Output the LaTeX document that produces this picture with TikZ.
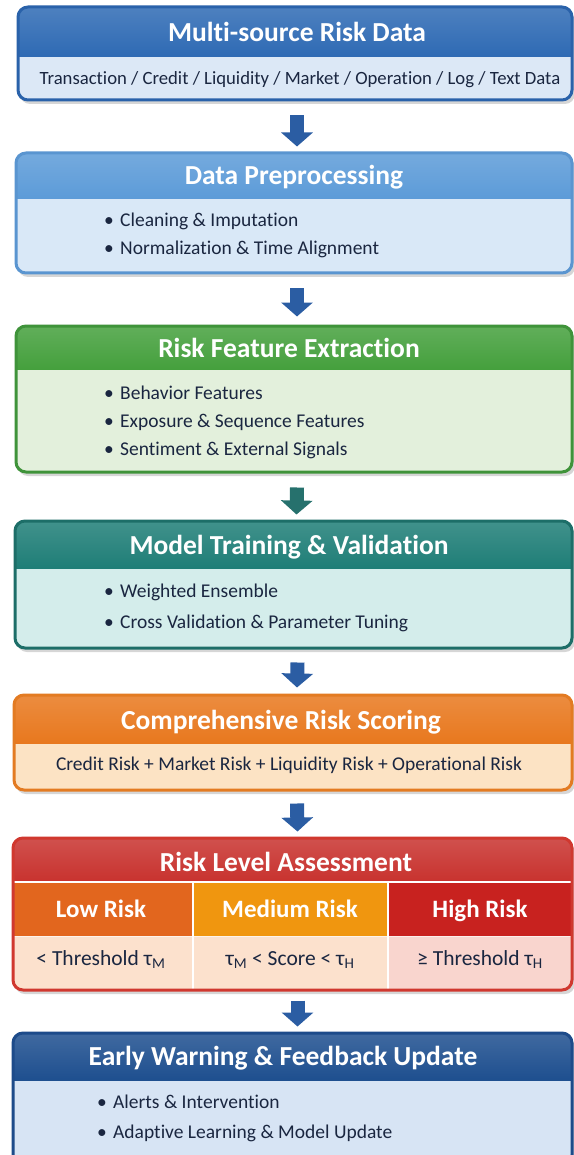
\documentclass[tikz,border=0pt]{standalone}
\usepackage{fontspec}
\setmainfont{Carlito}[Ligatures=NoCommon]
\usetikzlibrary{fit,arrows.meta,calc}

% stage colours: header / body / border
\definecolor{hdA}{HTML}{2E6AB4}\definecolor{bgA}{HTML}{DCE8F6}\definecolor{bdA}{HTML}{2A62AA}
\definecolor{hdB}{HTML}{5C9BD8}\definecolor{bgB}{HTML}{D9E8F7}\definecolor{bdB}{HTML}{5A95D0}
\definecolor{hdC}{HTML}{45A03D}\definecolor{bgC}{HTML}{E3F0DC}\definecolor{bdC}{HTML}{3F933A}
\definecolor{hdD}{HTML}{1F7E77}\definecolor{bgD}{HTML}{D4EDEB}\definecolor{bdD}{HTML}{1D6E68}
\definecolor{hdE}{HTML}{E8781E}\definecolor{bgE}{HTML}{FCE3C4}\definecolor{bdE}{HTML}{E37B22}
\definecolor{hdF}{HTML}{C8322E}\definecolor{bdF}{HTML}{D0382F}
\definecolor{hdG}{HTML}{1E4F8F}\definecolor{bgG}{HTML}{D7E4F4}\definecolor{bdG}{HTML}{1D4B8A}
% risk level cells
\definecolor{lowC}{HTML}{E2661E}\definecolor{midC}{HTML}{F0960F}\definecolor{highC}{HTML}{C8221F}
\definecolor{peach}{HTML}{FCE1CD}\definecolor{pink}{HTML}{F9D5CE}
% text and arrows
\definecolor{ink}{HTML}{1A2640}
\definecolor{arrowBlue}{HTML}{2B5DA3}\definecolor{arrowTeal}{HTML}{26716D}

\tikzset{
  frame/.style={draw, line width=3pt, rounded corners=10pt, inner sep=0pt},
  title/.style={text=white, font=\bfseries\fontsize{27.5}{32}\selectfont, inner sep=0pt},
  bodytext/.style={text=ink, font=\fontsize{19.5}{23}\selectfont, inner sep=0pt},
  item/.style={bodytext, anchor=west},
  level/.style={text=white, font=\bfseries\fontsize{25}{29}\selectfont, inner sep=0pt,
    text height=17pt, text depth=5pt},
  bound/.style={bodytext, font=\fontsize{21.5}{25}\selectfont, text height=15pt, text depth=5pt},
  flow/.style={line width=14pt, -{Triangle[width=31pt,length=14pt]}},
}

% #1 name, #2 left, #3 top, #4 bottom, #5 header bottom,
% #6 header colour, #7 body colour, #8 border colour
\newcommand\stagebox[8]{%
  \fill[black, opacity=.16, rounded corners=10pt] (#2+2,#3+4) rectangle (575,#4+4);
  \begin{scope}
    \clip[rounded corners=10pt] (#2,#3) rectangle (572,#4);
    \fill[#7] (#2,#3) rectangle (572,#4);
    \shade[top color=#6!85!white, bottom color=#6] (#2,#3) rectangle (572,#5);
  \end{scope}
  \node[frame, draw=#8, fit={(#2,#3) (572,#4)}] (#1) {};
}
\newcommand\bul{\makebox[16pt][l]{•}}

\begin{document}
\begin{tikzpicture}[x=1pt, y=-1pt]
\useasboundingbox (0,0) rectangle (573,1155);
\fill[white] (0,0) rectangle (573,1155);

% 1 data sources
\stagebox{src}{18}{7}{100}{57}{hdA}{bgA}{bdA}
\node[title] (srcT) at (297,32) {Multi-source Risk Data};
\node[bodytext, font=\fontsize{18.7}{22}\selectfont] (srcB) at (300,80) {Transaction / Credit / Liquidity / Market / Operation / Log / Text Data};

% 2 preprocessing
\stagebox{pre}{16}{153}{273}{199}{hdB}{bgB}{bdB}
\node[title] (preT) at (294,177) {Data Preprocessing};
\node[item] (pre1) at (104,221) {\bul Cleaning \& Imputation};
\node[item] (pre2) at (104,249) {\bul Normalization \& Time Alignment};

% 3 features
\stagebox{fea}{16}{326}{472}{369}{hdC}{bgC}{bdC}
\node[title] (feaT) at (289,348) {Risk Feature Extraction};
\node[item] (fea1) at (104,393) {\bul Behavior Features};
\node[item] (fea2) at (104,422) {\bul Exposure \& Sequence Features};
\node[item] (fea3) at (104,450) {\bul Sentiment \& External Signals};

% 4 model
\stagebox{mod}{15}{521}{648}{568}{hdD}{bgD}{bdD}
\node[title] (modT) at (289,547) {Model Training \& Validation};
\node[item] (mod1) at (104,592) {\bul Weighted Ensemble};
\node[item] (mod2) at (104,623) {\bul Cross Validation \& Parameter Tuning};

% 5 scoring
\stagebox{sco}{14}{695}{790}{743}{hdE}{bgE}{bdE}
\node[title] (scoT) at (281,722) {Comprehensive Risk Scoring};
\node[bodytext] (scoB) at (289,765) {Credit Risk + Market Risk + Liquidity Risk + Operational Risk};

% 6 risk levels
\fill[black, opacity=.16, rounded corners=10pt] (15,842) rectangle (575,994);
\begin{scope}
  \clip[rounded corners=10pt] (13,838) rectangle (572,990);
  \shade[top color=hdF!85!white, bottom color=hdF] (13,838) rectangle (572,882);
  \fill[lowC] (13,882) rectangle (193,936);
  \fill[midC] (193,882) rectangle (388,936);
  \fill[highC] (388,882) rectangle (572,936);
  \fill[peach] (13,936) rectangle (388,990);
  \fill[pink] (388,936) rectangle (572,990);
  \draw[white, line width=2pt] (13,882) -- (572,882);
  \draw[white, line width=1.5pt] (193,882) -- (193,990) (388,882) -- (388,990);
  \draw[white, opacity=.6, line width=1pt] (13,936) -- (572,936);
\end{scope}
\node[frame, draw=bdF, fit={(13,838) (572,990)}] (lev) {};
\node[title] (levT) at (286,862) {Risk Level Assessment};
\node[level] (low) at (101,911) {Low Risk};
\node[level] (mid) at (290,911) {Medium Risk};
\node[level] (high) at (480,911) {High Risk};
\node[bound] (lowR) at (101,960) {< Threshold τ\textsubscript{M}};
\node[bound] (midR) at (290,960) {τ\textsubscript{M} < Score < τ\textsubscript{H}};
\node[bound] (highR) at (480,960) {≥ Threshold τ\textsubscript{H}};

% 7 warning
\stagebox{war}{13}{1033}{1165}{1080}{hdG}{bgG}{bdG}
\node[title] (warT) at (283,1058) {Early Warning \& Feedback Update};
\node[item] (war1) at (97,1102) {\bul Alerts \& Intervention};
\node[item] (war2) at (97,1133) {\bul Adaptive Learning \& Model Update};

% flow arrows between stages
\draw[flow, arrowBlue] ($(src.south)+(2,14)$) -- ($(pre.north)+(3,-5)$);
\draw[flow, arrowBlue] ($(pre.south)+(3,14)$) -- ($(fea.north)+(3,-8)$);
\draw[flow, arrowTeal] ($(fea.south)+(3,14)$) -- ($(mod.north)+(3,-5)$);
\draw[flow, arrowBlue] ($(mod.south)+(4,13)$) -- ($(sco.north)+(4,-6)$);
\draw[flow, arrowBlue] ($(sco.south)+(4,12)$) -- ($(lev.north)+(5,-5)$);
\draw[flow, arrowBlue] ($(lev.south)+(5,9)$) -- ($(war.north)+(5,-5)$);
\end{tikzpicture}
\end{document}
